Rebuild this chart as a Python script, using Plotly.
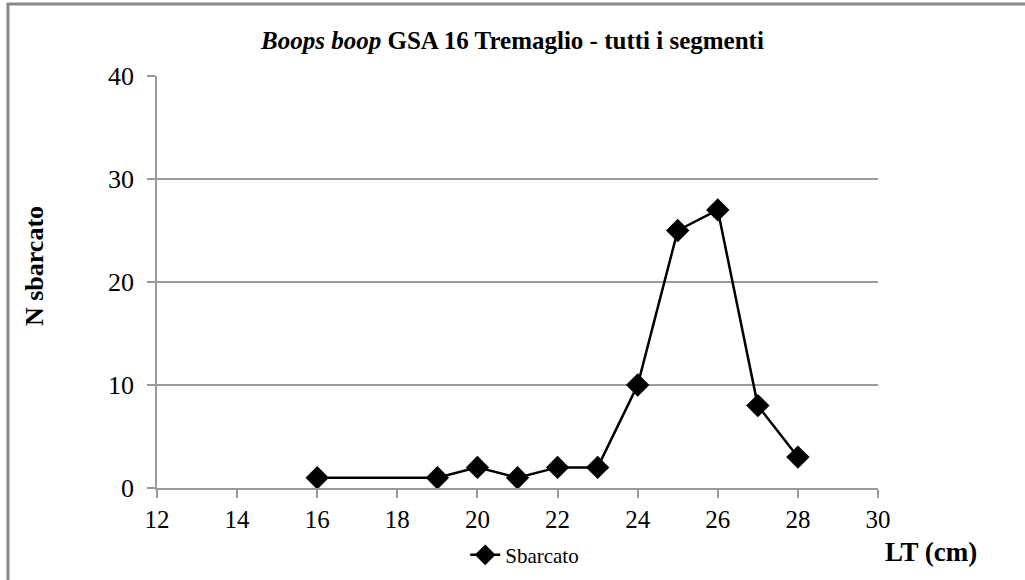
import plotly.graph_objects as go

lt_cm = [16, 19, 20, 21, 22, 23, 24, 25, 26, 27, 28]
n_sbarcato = [1, 1, 2, 1, 2, 2, 10, 25, 27, 8, 3]
x_ticks = [12, 14, 16, 18, 20, 22, 24, 26, 28, 30]
y_ticks = [0, 10, 20, 30, 40]

FONT = "Liberation Serif"
GREY = "#9a9a9a"

fig = go.Figure()
fig.add_trace(go.Scatter(
    x=lt_cm, y=n_sbarcato, mode="lines+markers", name="Sbarcato",
    line=dict(color="black", width=2.5),
    marker=dict(symbol="diamond", size=18, color="black"),
    cliponaxis=False,
))

fig.update_layout(
    width=1025, height=580,
    paper_bgcolor="white", plot_bgcolor="white",
    margin=dict(l=157, r=147, t=76, b=92, autoexpand=False),
    font=dict(family=FONT, color="black", size=25),
    title=dict(text="<b><i>Boops boop</i> GSA 16 Tremaglio - tutti i segmenti</b>",
               x=0.5, xanchor="center", y=0.931, yanchor="middle",
               font=dict(family=FONT, size=25)),
    showlegend=True,
    legend=dict(orientation="h", x=0.51, xanchor="center", y=-0.163, yanchor="middle",
                font=dict(family=FONT, size=21), bgcolor="rgba(0,0,0,0)"),
    xaxis=dict(range=[12, 30], tickvals=x_ticks, showgrid=False, zeroline=False,
               showline=True, linecolor=GREY, linewidth=1.5, automargin=False,
               ticks="outside", ticklen=8, tickcolor=GREY, tickwidth=1.5,
               ticklabelstandoff=0,
               tickfont=dict(family=FONT, size=25)),
    yaxis=dict(range=[0, 40], tickvals=y_ticks, showgrid=True, gridcolor=GREY, gridwidth=1.5,
               zeroline=False, showline=True, linecolor=GREY, linewidth=1.5, automargin=False,
               ticks="outside", ticklen=8, tickcolor=GREY, tickwidth=1.5,
               ticklabelstandoff=8,
               tickfont=dict(family=FONT, size=26)),
)

fig.add_annotation(text="<b>N sbarcato</b>", xref="paper", yref="paper",
                   x=-0.169, y=0.539, xanchor="center", yanchor="middle", textangle=-90,
                   showarrow=False, font=dict(family=FONT, size=26))

fig.add_annotation(text="<b>LT (cm)</b>", xref="paper", yref="paper",
                   x=1.0735, y=-0.155, xanchor="center", yanchor="middle", showarrow=False,
                   font=dict(family=FONT, size=27))

fig.add_shape(type="rect", xref="paper", yref="paper",
              x0=-0.2067, x1=1.5, y0=-0.5, y1=1.1748,
              line=dict(color="#888888", width=3), fillcolor="rgba(0,0,0,0)", layer="below")

fig.write_html("out.html", config={"displayModeBar": False},
               post_script="document.body.style.margin='0';")
